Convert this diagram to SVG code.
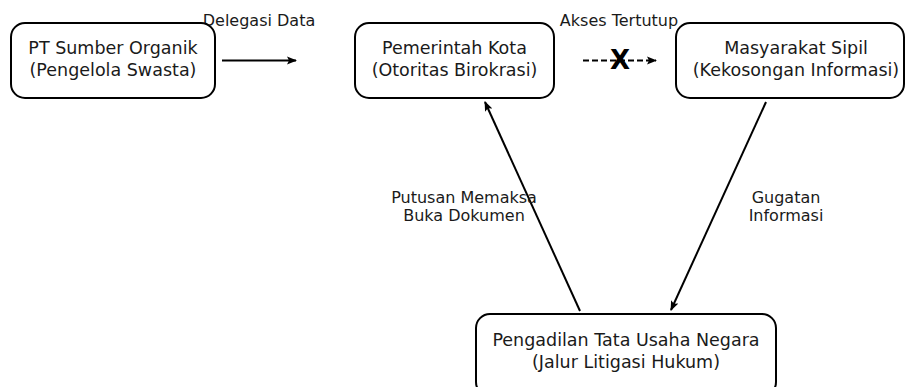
<svg xmlns="http://www.w3.org/2000/svg" width="906" height="387" viewBox="0 0 906 387">
<style>
.box{fill:#fff;stroke:#000;stroke-width:2}
.t{font-family:"DejaVu Sans",sans-serif;font-size:17.5px;fill:#1a1a1a;text-anchor:middle}
.l{font-family:"DejaVu Sans",sans-serif;font-size:16px;fill:#1a1a1a;text-anchor:middle}
.c{stroke:#000;stroke-width:2;fill:none}
</style>
<defs>
<marker id="ah" viewBox="0 0 10 10" refX="9" refY="5" markerWidth="5" markerHeight="5" orient="auto" markerUnits="strokeWidth">
<path d="M0,1 L10,5 L0,9 L2,5 Z" fill="#000"/>
</marker>
</defs>
<rect width="906" height="387" fill="#fff"/>
<g id="connectors">
<line class="c" x1="222" y1="60.5" x2="296" y2="60.5" marker-end="url(#ah)"/>
<text class="l" x="259" y="26">Delegasi Data</text>
<line class="c" x1="583" y1="60.5" x2="656" y2="60.5" stroke-dasharray="6,3" marker-end="url(#ah)"/>
<text x="620" y="69" font-family="DejaVu Sans,sans-serif" font-size="26" font-weight="bold" text-anchor="middle">X</text>
<text class="l" x="619" y="26">Akses Tertutup</text>
<line class="c" x1="580" y1="311" x2="485" y2="102" marker-end="url(#ah)"/>
<text class="l" x="464" y="203">Putusan Memaksa</text>
<text class="l" x="464" y="221">Buka Dokumen</text>
<line class="c" x1="766" y1="102" x2="671" y2="310" marker-end="url(#ah)"/>
<text class="l" x="786" y="203">Gugatan</text>
<text class="l" x="786" y="221">Informasi</text>
</g>
<g id="node-pt">
<rect class="box" x="11" y="23" width="204" height="75" rx="14"/>
<text class="t" x="113" y="54">PT Sumber Organik</text>
<text class="t" x="113" y="76">(Pengelola Swasta)</text>
</g>
<g id="node-pemkot">
<rect class="box" x="355" y="23" width="199" height="75" rx="14"/>
<text class="t" x="454.5" y="54">Pemerintah Kota</text>
<text class="t" x="454.5" y="76">(Otoritas Birokrasi)</text>
</g>
<g id="node-masyarakat">
<rect class="box" x="676" y="23" width="228" height="75" rx="14"/>
<text class="t" x="796" y="54">Masyarakat Sipil</text>
<text class="t" x="796" y="76">(Kekosongan Informasi)</text>
</g>
<g id="node-ptun">
<rect class="box" x="476" y="314" width="300" height="82" rx="14"/>
<text class="t" x="626" y="346">Pengadilan Tata Usaha Negara</text>
<text class="t" x="626" y="368">(Jalur Litigasi Hukum)</text>
</g>
</svg>
